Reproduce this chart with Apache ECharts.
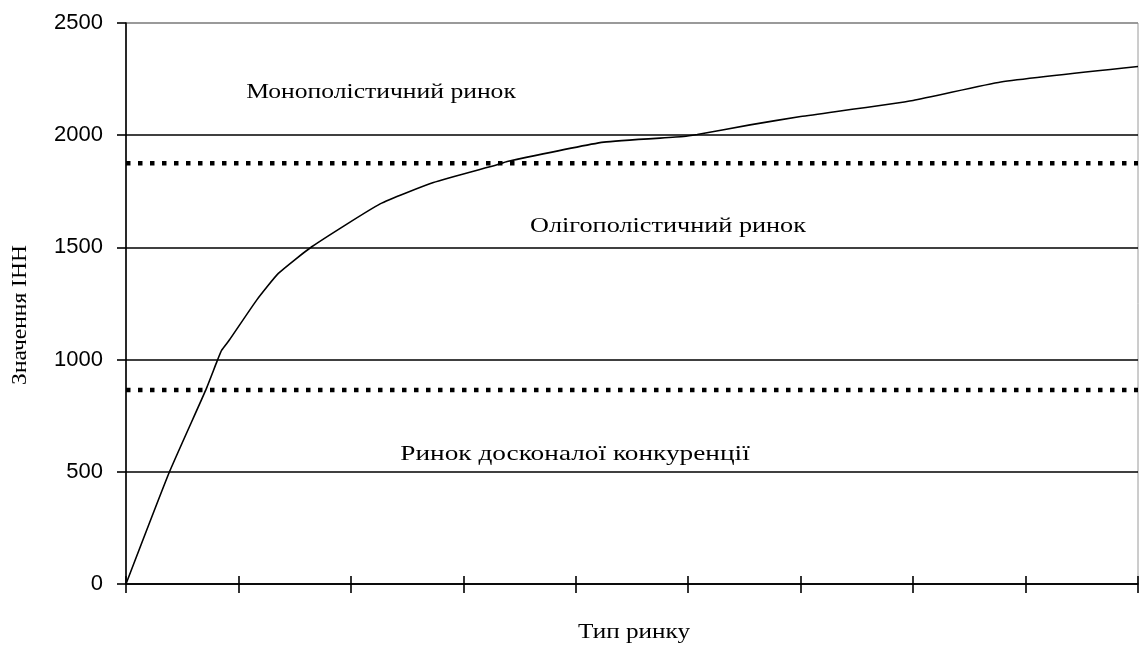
<!DOCTYPE html>
<html>
<head>
<meta charset="utf-8">
<script src="https://cdn.jsdelivr.net/npm/echarts@6/dist/echarts.min.js"></script>
<style>html,body{margin:0;padding:0;background:#fff}#c{width:1139px;height:651px}</style>
</head>
<body>
<div id="c"></div>
<script>
// Curve: x position (in tick units 0..9) and HHI value
const curveX = [0, 0.385, 0.709, 0.81, 0.851, 0.919, 1.162, 1.355, 1.652, 2.26, 2.734, 3.3, 3.39, 4.25, 4.96, 5.08, 5.55, 6.0, 7.0, 7.78, 9.0];
const curveY = [0, 498, 864, 993, 1042, 1087, 1265, 1384, 1503, 1694, 1789, 1868, 1883, 1969, 1994, 2003, 2046, 2083, 2155, 2237, 2306];
// Boundary (dotted) levels
const boundaries = [1875, 864];
const yTicks = [0, 500, 1000, 1500, 2000, 2500];
const regionLabels = ['Монополістичний ринок', 'Олігополістичний ринок', 'Ринок досконалої конкуренції'];
const yAxisTitle = 'Значення ІНН';
const xAxisTitle = 'Тип ринку';

const chart = echarts.init(document.getElementById('c'));
const curveData = curveX.map((x, i) => [x, curveY[i]]);
const serif = '"Liberation Serif", "Times New Roman", serif';
const sans = '"Liberation Sans", Arial, sans-serif';

const series = [{
  type: 'line', data: curveData, showSymbol: false, smooth: 0.15,
  lineStyle: { color: '#000', width: 1.6 }, z: 5, silent: true
}];
boundaries.forEach(b => series.push({
  type: 'line', data: [[0, b], [9, b]], showSymbol: false, silent: true,
  lineStyle: { color: '#000', width: 4.5, type: [4.5, 7.5] }, z: 4
}));

const txt = (s, x, y, extra) => Object.assign({
  type: 'text', x: x, y: y, scaleX: 1.25, scaleY: 1, silent: true,
  style: { text: s, font: '21px ' + serif, fill: '#000', textAlign: 'center', textVerticalAlign: 'middle' }
}, extra || {});

chart.setOption({
  animation: false,
  grid: { left: 126, right: 1, top: 23, bottom: 67, show: true, borderColor: '#9a9a9a', borderWidth: 1 },
  xAxis: [{
    type: 'value', min: 0, max: 9, interval: 1,
    axisLine: { lineStyle: { color: '#000', width: 1.6 } },
    axisTick: { show: true, length: 9, lineStyle: { color: '#000', width: 1.6 } },
    axisLabel: { show: false }, splitLine: { show: false }
  }, {
    type: 'value', min: 0, max: 9, interval: 1, position: 'bottom',
    axisLine: { show: false },
    axisTick: { show: true, inside: true, length: 8, lineStyle: { color: '#000', width: 1.6 } },
    axisLabel: { show: false }, splitLine: { show: false }
  }],
  yAxis: {
    type: 'value', min: 0, max: 2500, interval: 500,
    axisLine: { show: true, lineStyle: { color: '#000', width: 1.6 } },
    axisTick: { show: true, length: 9, lineStyle: { color: '#000', width: 1.6 } },
    axisLabel: { color: '#000', fontFamily: sans, fontSize: 22, margin: 23,
      formatter: v => yTicks.includes(v) ? String(v) : '' },
    splitLine: { show: true, showMaxLine: true, lineStyle: { color: ['#000', '#000', '#000', '#000', '#000', '#8a8a8a'], width: 1.5 } }
  },
  series: series,
  graphic: [
    txt(regionLabels[0], 381, 92, { scaleX: 1.22 }),
    txt(regionLabels[1], 668, 226),
    txt(regionLabels[2], 575, 454, { scaleX: 1.3 }),
    txt(xAxisTitle, 634, 632, { scaleX: 1.2 }),
    txt(yAxisTitle, 20, 315, { rotation: Math.PI / 2, scaleX: 1.12 })
  ]
});
</script>
</body>
</html>
